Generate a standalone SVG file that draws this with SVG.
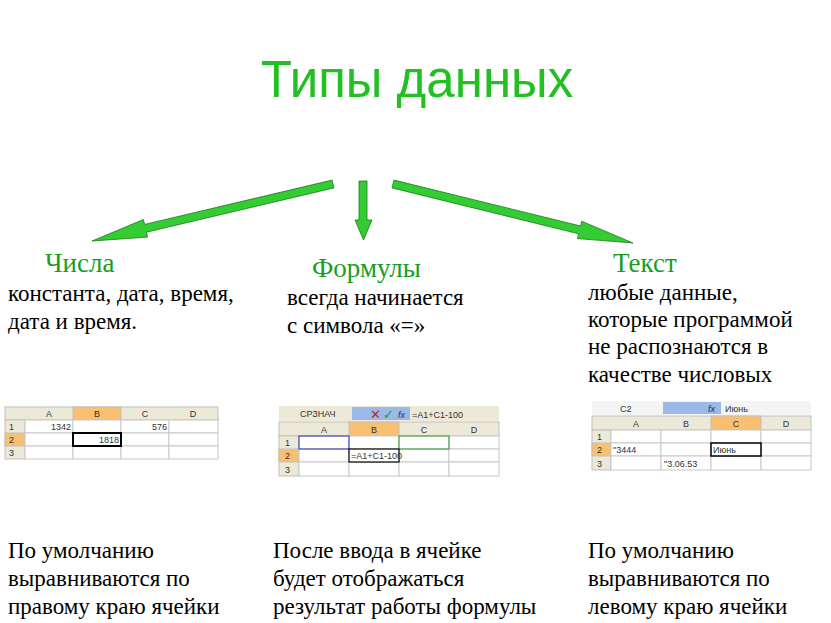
<svg xmlns="http://www.w3.org/2000/svg" width="831" height="623" viewBox="0 0 831 623">
<style>
.t{font-family:"Liberation Serif",serif;font-size:23px;fill:#000}
.h{font-family:"Liberation Serif",serif;font-size:27px;fill:#1a9e1a}
.ar{fill:#33cc33;stroke:#1a7a1a;stroke-width:0.8}
.g{fill:#fff;stroke:#c8c8c8;stroke-width:1}
.hd{fill:#ece9d8;stroke:#c0c0c0;stroke-width:1}
.or{fill:#f8c070;stroke:#c0c0c0;stroke-width:1}
.s{font-family:"Liberation Sans",sans-serif;font-size:9px;fill:#333}
.c{text-anchor:middle}
.r{text-anchor:end}
</style>
<rect width="831" height="623" fill="#fff"/>
<text x="417" y="97" text-anchor="middle" font-family="Liberation Sans,sans-serif" font-size="51" fill="#22c022">Типы данных</text>
<g id="connectors">
<polygon class="ar" points="332.1,180.1 144.6,224.4 143.4,219.5 92,241 147.6,237.1 146.4,232.2 333.9,187.9"/>
<polygon class="ar" points="359,181 367,181 367,220 372,220 363.5,240 355,220 359,220"/>
<polygon class="ar" points="394,180.1 580.6,226 581.7,221.2 633,243 577.5,238.6 578.6,233.8 392,187.9"/>
</g>
<g id="numbers">
<text class="h" x="45" y="272">Числа</text>
<text class="t" x="8" y="301">константа, дата, время,</text>
<text class="t" x="8" y="329">дата и время.</text>
<rect class="hd" x="5" y="407" width="213" height="13"/>
<rect class="or" x="73" y="407" width="48" height="13"/>
<rect class="hd" x="5" y="420" width="20" height="39"/>
<rect class="or" x="5" y="433" width="20" height="13"/>
<g class="g"><rect x="25" y="420" width="48" height="13"/><rect x="73" y="420" width="48" height="13"/><rect x="121" y="420" width="48" height="13"/><rect x="169" y="420" width="49" height="13"/>
<rect x="25" y="433" width="48" height="13"/><rect x="121" y="433" width="48" height="13"/><rect x="169" y="433" width="49" height="13"/>
<rect x="25" y="446" width="48" height="13"/><rect x="73" y="446" width="48" height="13"/><rect x="121" y="446" width="48" height="13"/><rect x="169" y="446" width="49" height="13"/></g>
<rect x="73" y="433" width="48" height="13" fill="#fff" stroke="#000" stroke-width="2"/>
<text class="s c" x="49" y="417">A</text><text class="s c" x="97" y="417">B</text><text class="s c" x="145" y="417">C</text><text class="s c" x="193" y="417">D</text>
<text class="s" x="9" y="430">1</text><text class="s" x="9" y="443">2</text><text class="s" x="9" y="456">3</text>
<text class="s r" x="71" y="430">1342</text><text class="s r" x="167" y="430">576</text><text class="s r" x="119" y="443">1818</text>
<text class="t" x="8" y="558">По умолчанию</text>
<text class="t" x="8" y="586">выравниваются по</text>
<text class="t" x="8" y="614">правому краю ячейки</text>
</g>
<g id="formulas">
<text class="h" x="312" y="277">Формулы</text>
<text class="t" x="287" y="305">всегда начинается</text>
<text class="t" x="287" y="333">с символа «=»</text>
<rect x="279" y="406" width="220" height="15" fill="#ece9d8"/>
<rect x="352" y="407" width="58" height="13" fill="#9ab8e8"/>
<text class="s" x="300" y="417" font-size="8">СРЗНАЧ</text>
<text x="370" y="419" font-family="Liberation Sans,sans-serif" font-size="13" fill="#d02020">✕</text>
<text x="383" y="419" font-family="Liberation Sans,sans-serif" font-size="13" fill="#20a020">✓</text>
<text class="s" x="398" y="418" font-style="italic">fx</text>
<text class="s" x="412" y="418" font-size="10" fill="#222">=A1+C1-100</text>
<rect class="hd" x="279" y="422" width="220" height="14"/>
<rect class="or" x="349" y="422" width="50" height="14"/>
<rect class="hd" x="279" y="436" width="20" height="40"/>
<rect class="or" x="279" y="449" width="20" height="13"/>
<g class="g"><rect x="299" y="436" width="50" height="13"/><rect x="349" y="436" width="50" height="13"/><rect x="399" y="436" width="50" height="13"/><rect x="449" y="436" width="50" height="13"/>
<rect x="299" y="449" width="50" height="13"/><rect x="399" y="449" width="50" height="13"/><rect x="449" y="449" width="50" height="13"/>
<rect x="299" y="462" width="50" height="14"/><rect x="349" y="462" width="50" height="14"/><rect x="399" y="462" width="50" height="14"/><rect x="449" y="462" width="50" height="14"/></g>
<rect x="299" y="436" width="50" height="13" fill="none" stroke="#3030c0"/>
<rect x="399" y="436" width="50" height="13" fill="none" stroke="#30a030"/>
<rect x="349" y="449" width="50" height="13" fill="#fff" stroke="#000" stroke-width="1.2"/>
<text class="s c" x="324" y="433">A</text><text class="s c" x="374" y="433">B</text><text class="s c" x="424" y="433">C</text><text class="s c" x="474" y="433">D</text>
<text class="s" x="285" y="446">1</text><text class="s" x="285" y="459">2</text><text class="s" x="285" y="473">3</text>
<text class="s" x="351" y="459">=A1+C1-100</text>
<text class="t" x="273" y="558">После ввода в ячейке</text>
<text class="t" x="273" y="586">будет отображаться</text>
<text class="t" x="273" y="614">результат работы формулы</text>
</g>
<g id="text">
<text class="h" x="613" y="272">Текст</text>
<text class="t" x="588" y="300">любые данные,</text>
<text class="t" x="588" y="327">которые программой</text>
<text class="t" x="588" y="354">не распознаются в</text>
<text class="t" x="588" y="382">качестве числовых</text>
<rect x="592" y="401" width="219" height="14" fill="#f4f4f4"/>
<rect x="663" y="402" width="58" height="12" fill="#9ab8e8"/>
<text class="s" x="620" y="412">C2</text>
<text class="s" x="708" y="412" font-style="italic">fx</text>
<text class="s" x="725" y="412">Июнь</text>
<rect class="hd" x="592" y="416" width="219" height="14"/>
<rect class="or" x="711" y="416" width="50" height="14"/>
<rect class="hd" x="592" y="430" width="19" height="40"/>
<rect class="or" x="592" y="443" width="19" height="13"/>
<g class="g"><rect x="611" y="430" width="50" height="13"/><rect x="661" y="430" width="50" height="13"/><rect x="711" y="430" width="50" height="13"/><rect x="761" y="430" width="50" height="13"/>
<rect x="611" y="443" width="50" height="13"/><rect x="661" y="443" width="50" height="13"/><rect x="761" y="443" width="50" height="13"/>
<rect x="611" y="456" width="50" height="14"/><rect x="661" y="456" width="50" height="14"/><rect x="711" y="456" width="50" height="14"/><rect x="761" y="456" width="50" height="14"/></g>
<rect x="711" y="443" width="50" height="13" fill="#fff" stroke="#000" stroke-width="1.5"/>
<text class="s c" x="636" y="427">A</text><text class="s c" x="686" y="427">B</text><text class="s c" x="736" y="427">C</text><text class="s c" x="786" y="427">D</text>
<text class="s" x="597" y="440">1</text><text class="s" x="597" y="453">2</text><text class="s" x="597" y="467">3</text>
<text class="s" x="613" y="453">"3444</text><text class="s" x="664" y="467">"3.06.53</text><text class="s" x="713" y="453">Июнь</text>
<text class="t" x="588" y="558">По умолчанию</text>
<text class="t" x="588" y="586">выравниваются по</text>
<text class="t" x="588" y="614">левому краю ячейки</text>
</g>
</svg>
